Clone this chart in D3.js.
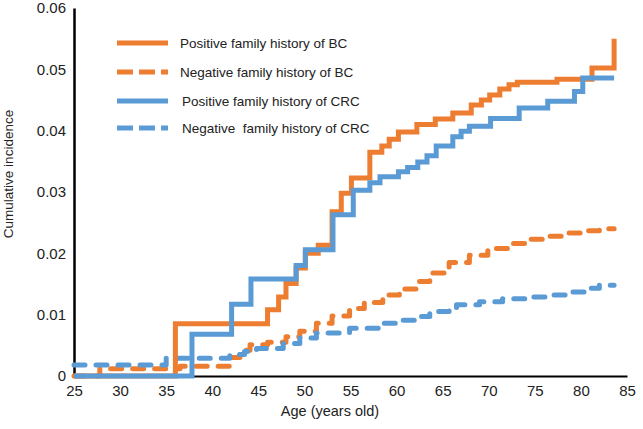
<!DOCTYPE html>
<html>
<head>
<meta charset="utf-8">
<script src="https://cdn.jsdelivr.net/npm/d3@7/dist/d3.min.js"></script>
<style>
  html, body { margin: 0; padding: 0; background: #fff; }
  svg { display: block; font-family: "Liberation Sans", Arial, sans-serif; }
</style>
</head>
<body>
<svg id="chart" width="643" height="429"></svg>
<script>
// ---- data ----
const xTicks = [25, 30, 35, 40, 45, 50, 55, 60, 65, 70, 75, 80, 85];
const yTicks = [0, 0.01, 0.02, 0.03, 0.04, 0.05, 0.06];
const yTickLabels = ["0", "0.01", "0.02", "0.03", "0.04", "0.05", "0.06"];

const seriesNames = [
  "Positive family history of BC",
  "Negative family history of BC",
  "Positive family history of CRC",
  "Negative  family history of CRC"
];

// Positive family history of BC (step function)
const posBCAge = [25, 36.0, 46.0, 47.2, 48.0, 49.1, 50.1, 51.5, 53.0, 54.0, 55.1, 57.1, 58.4, 59.2, 60.2, 62.2, 64.2, 66.1, 68.1, 69.2, 70.1, 71.2, 72.2, 73.1, 77.4, 81.2, 83.6];
const posBCVal = [0, 0.0085, 0.0108, 0.0129, 0.0151, 0.0176, 0.0200, 0.0213, 0.0268, 0.0298, 0.0323, 0.0365, 0.0375, 0.0386, 0.0398, 0.0410, 0.0419, 0.0429, 0.0442, 0.0450, 0.0458, 0.0468, 0.0475, 0.0479, 0.0484, 0.0502, 0.0550];

// Negative family history of BC
const negBCAge = [25, 27.8, 36.5, 41.9, 43.0, 44.1, 46.0, 48.0, 49.5, 51.3, 53.0, 54.9, 56.5, 58.5, 60.3, 62.1, 63.6, 65.7, 67.9, 69.9, 72.2, 74.4, 76.6, 78.7, 80.5, 82.0, 83.6];
const negBCVal = [0, 0.0012, 0.0016, 0.0030, 0.0042, 0.0051, 0.0055, 0.0064, 0.0073, 0.0086, 0.0098, 0.0110, 0.0120, 0.0132, 0.0142, 0.0154, 0.0168, 0.0185, 0.0197, 0.0208, 0.0216, 0.0223, 0.0228, 0.0233, 0.0237, 0.0240, 0.0240];

// Positive family history of CRC
const posCRCAge = [25, 37.8, 42.1, 44.2, 49.1, 50.1, 53.1, 55.3, 57.1, 58.2, 60.2, 61.2, 62.3, 63.3, 64.3, 66.1, 67.0, 67.9, 70.2, 73.3, 76.4, 79.3, 80.2, 83.6];
const posCRCVal = [0, 0.0068, 0.0117, 0.0158, 0.0180, 0.0206, 0.0263, 0.0303, 0.0315, 0.0325, 0.0333, 0.0340, 0.0349, 0.0359, 0.0375, 0.0390, 0.0399, 0.0407, 0.0420, 0.0437, 0.0448, 0.0464, 0.0486, 0.0486];

// Negative family history of CRC
const negCRCAge = [25, 35.0, 41.9, 43.5, 44.8, 47.7, 49.5, 51.3, 54.9, 58.5, 60.3, 62.1, 63.6, 65.7, 66.5, 69.0, 71.5, 74.0, 76.2, 78.4, 80.5, 82.0, 83.6];
const negCRCVal = [0.0018, 0.0029, 0.0035, 0.0040, 0.0045, 0.0053, 0.0062, 0.0070, 0.0078, 0.0086, 0.0091, 0.0097, 0.0105, 0.0110, 0.0116, 0.0121, 0.0126, 0.0129, 0.0132, 0.0137, 0.0143, 0.0148, 0.0148];

const orange = "#ED7D31";
const blue = "#5B9BD5";

// ---- chart ----
const svg = d3.select("#chart");
const x = d3.scaleLinear().domain([25, 85]).range([74, 627]);
const y = d3.scaleLinear().domain([0, 0.06]).range([376, 8]);

const zip = (a, v) => a.map((d, i) => [d, v[i]]);
const series = [
  { name: seriesNames[1], data: zip(negBCAge, negBCVal), color: orange, dashed: true },
  { name: seriesNames[3], data: zip(negCRCAge, negCRCVal), color: blue, dashed: true },
  { name: seriesNames[0], data: zip(posBCAge, posBCVal), color: orange, dashed: false },
  { name: seriesNames[2], data: zip(posCRCAge, posCRCVal), color: blue, dashed: false }
];

// axes
const xAxis = d3.axisBottom(x).tickValues(xTicks).tickSize(0).tickPadding(9).tickFormat(d3.format("d"));
const gx = svg.append("g").attr("transform", "translate(0,376)").call(xAxis);
gx.select(".domain").attr("stroke", "#000").attr("stroke-width", 2);
gx.selectAll("text").attr("font-size", 15).attr("fill", "#222").attr("font-family", "Liberation Sans, Arial, sans-serif");

const yAxis = d3.axisLeft(y).tickValues(yTicks).tickSize(0).tickPadding(8).tickFormat((d, i) => yTickLabels[i]);
const gy = svg.append("g").attr("transform", "translate(74,0)").call(yAxis);
gy.select(".domain").attr("stroke", "#000").attr("stroke-width", 2.5);
gy.selectAll("text").attr("font-size", 15).attr("fill", "#222").attr("font-family", "Liberation Sans, Arial, sans-serif");

// lines
const line = d3.line().x(d => x(d[0])).y(d => y(d[1])).curve(d3.curveStepAfter);
series.forEach(s => {
  svg.append("path")
    .datum(s.data)
    .attr("fill", "none")
    .attr("stroke", s.color)
    .attr("stroke-width", 5)
    .attr("stroke-linejoin", s.dashed ? "round" : "miter")
    .attr("stroke-linecap", s.dashed ? "round" : "butt")
    .attr("stroke-dasharray", s.dashed ? "11,11" : null)
    .attr("d", line);
});

// axis titles
svg.append("text")
  .attr("x", 330).attr("y", 416)
  .attr("text-anchor", "middle")
  .attr("font-size", 14.5).attr("fill", "#222")
  .text("Age (years old)");

svg.append("text")
  .attr("transform", "translate(13,174) rotate(-90)")
  .attr("text-anchor", "middle")
  .attr("font-size", 13.5).attr("fill", "#222")
  .text("Cumulative incidence");

// legend
const legendItems = [
  { name: seriesNames[0], color: orange, dashed: false, y: 43, tx: 180 },
  { name: seriesNames[1], color: orange, dashed: true, y: 72, tx: 180 },
  { name: seriesNames[2], color: blue, dashed: false, y: 101, tx: 182 },
  { name: seriesNames[3], color: blue, dashed: true, y: 128, tx: 182 }
];
const lg = svg.append("g");
legendItems.forEach(it => {
  lg.append("line")
    .attr("x1", 117).attr("x2", 168)
    .attr("y1", it.y).attr("y2", it.y)
    .attr("stroke", it.color).attr("stroke-width", 5)
    .attr("stroke-dasharray", it.dashed ? "16,6" : null);
  lg.append("text")
    .attr("x", it.tx).attr("y", it.y).attr("dy", "0.35em")
    .attr("font-size", 13.5).attr("fill", "#222")
    .style("white-space", "pre")
    .attr("xml:space", "preserve")
    .text(it.name);
});
</script>
</body>
</html>
